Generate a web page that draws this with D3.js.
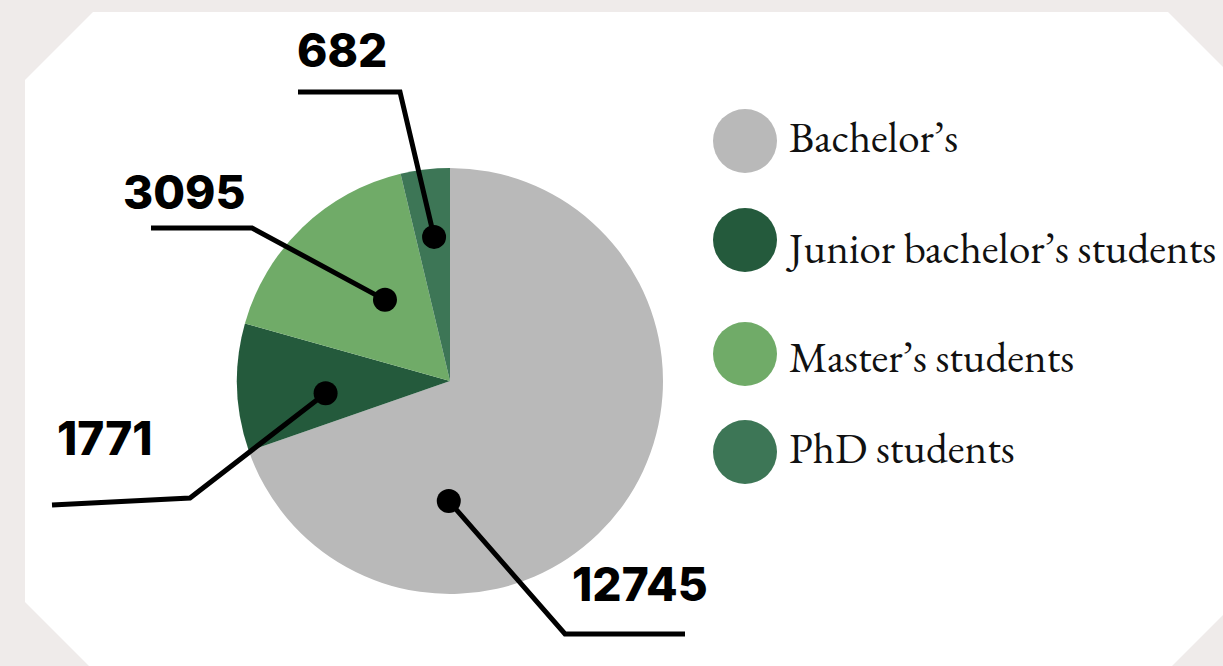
<!DOCTYPE html>
<html><head><meta charset="UTF-8">
<style type="text/css">
body { margin: 0; background: #efebea; overflow: hidden; }
.label { font-family: Inter, "Open Sans", sans-serif; font-weight: 800; font-size: 46px; fill: #000; }
.legend text { font-family: "EB Garamond", Garamond, "Liberation Serif", serif; font-size: 43px; fill: #111; }
.leader { fill: none; stroke: #000; stroke-width: 5; stroke-linejoin: miter; }
</style>
<script src="https://cdn.jsdelivr.net/npm/d3@7"></script>
</head><body>
<div id="chart"></div>
<script>
// data
var legendNames = ["Bachelor’s", "Junior bachelor’s students", "Master’s students", "PhD students"];
var values = [12745, 1771, 3095, 682];
var colors = ["#b9b9b9", "#245a3c", "#70ab68", "#3d7656"];

var width = 1223, height = 666;
var cx = 450, cy = 381, radius = 213;

// where the dot sits inside each slice (fraction of the slice angle, distance from centre)
// and where the leader line bends / ends, relative to the pie centre
var dotAt = [[0.72, 120], [0.39, 125], [0.585, 104], [0.53, 145]];
var elbow = [[115, 253], [-260, 117], [-198, -153], [-50, -289]];
var lineEnd = [[235, 253], [-398, 124], [-299, -153], [-152, -289]];
var labelPos = [[122, 220], [-393, 74], [-327, -172], [-153, -314]];

var svg = d3.select("#chart").append("svg")
    .attr("width", width).attr("height", height);

// white panel with cut corners
var L = 25, T = 12, R = 1236, B = 670, c = 68;
svg.append("polygon")
    .attr("points", [[L, T + c], [L + c, T], [R - c, T], [R, T + c], [R, B - c], [R - c, B], [L + c, B], [L, B - c]].join(" "))
    .attr("fill", "#fff");

var pie = d3.pie().sort(null).value(function(d) { return d; });
var arcs = pie(values);
var arc = d3.arc().innerRadius(0).outerRadius(radius);

var g = svg.append("g").attr("transform", "translate(" + cx + "," + cy + ")");

g.selectAll(".slice")
    .data(arcs)
    .enter().append("path")
    .attr("class", "slice")
    .attr("d", arc)
    .attr("fill", function(d, i) { return colors[i]; });

function dotPoint(d, i) {
  var a = d.startAngle + dotAt[i][0] * (d.endAngle - d.startAngle);
  return [Math.sin(a) * dotAt[i][1], -Math.cos(a) * dotAt[i][1]];
}

// leader lines
g.selectAll(".leader")
    .data(arcs)
    .enter().append("path")
    .attr("class", "leader")
    .attr("d", function(d, i) { return d3.line()([dotPoint(d, i), elbow[i], lineEnd[i]]); });

g.selectAll(".dot")
    .data(arcs)
    .enter().append("circle")
    .attr("cx", function(d, i) { return dotPoint(d, i)[0]; })
    .attr("cy", function(d, i) { return dotPoint(d, i)[1]; })
    .attr("r", 12)
    .attr("fill", "#000");

g.selectAll(".label")
    .data(arcs)
    .enter().append("text")
    .attr("class", "label")
    .attr("x", function(d, i) { return labelPos[i][0]; })
    .attr("y", function(d, i) { return labelPos[i][1]; })
    .text(function(d) { return d.data; });

// legend
var legendY = [141, 240, 354, 452];
var legendBase = [152, 263, 372, 463];
var legend = svg.append("g").attr("class", "legend");

legend.selectAll("circle")
    .data(legendNames)
    .enter().append("circle")
    .attr("cx", 745)
    .attr("cy", function(d, i) { return legendY[i]; })
    .attr("r", 32)
    .attr("fill", function(d, i) { return colors[i]; });

legend.selectAll("text")
    .data(legendNames)
    .enter().append("text")
    .attr("x", 789)
    .attr("y", function(d, i) { return legendBase[i]; })
    .text(function(d) { return d; });
</script>
</body></html>
